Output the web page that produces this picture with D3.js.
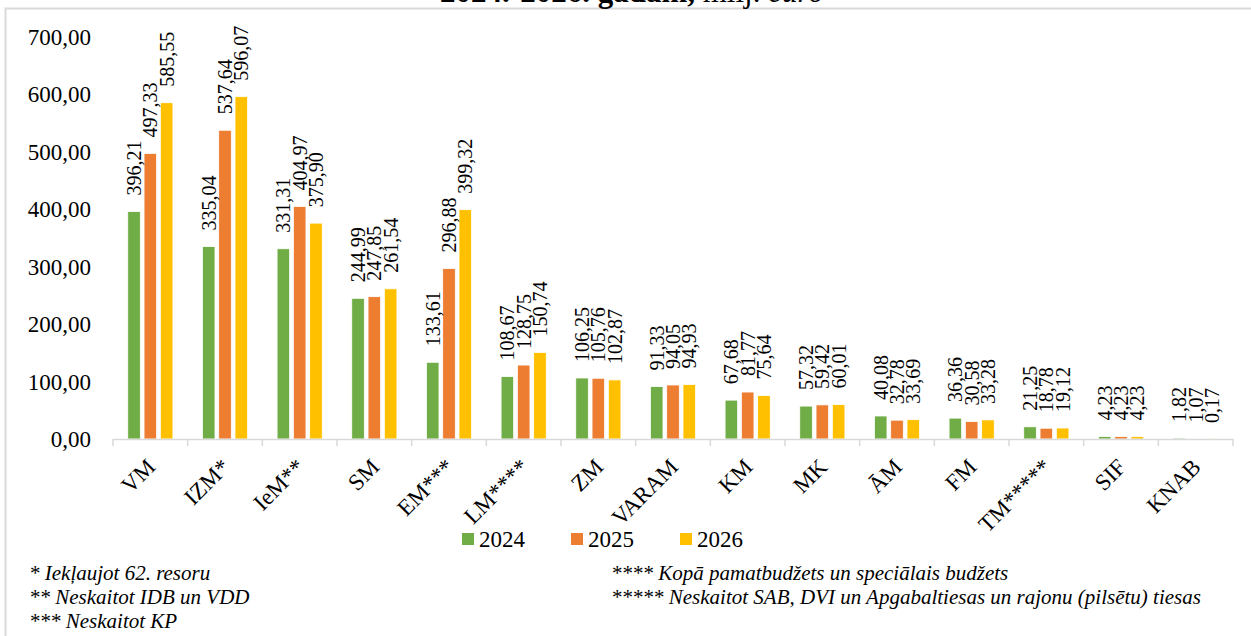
<!DOCTYPE html>
<html>
<head>
<meta charset="utf-8">
<script src="https://cdn.jsdelivr.net/npm/d3@7"></script>
<style>
  body { margin: 0; background: #fff; }
  svg { display: block; font-family: "Liberation Serif", "Times New Roman", serif; }
</style>
</head>
<body>
<svg id="chart" width="1251" height="636"></svg>
<script>
(function() {

  // Categories (ministries).
  var categories = ["VM", "IZM*", "IeM**", "SM", "EM***", "LM****", "ZM", "VARAM",
                    "KM", "MK", "ĀM", "FM", "TM*****", "SIF", "KNAB"];

  // Years in the legend.
  var years = ["2024", "2025", "2026"];

  // Values, milj. euro.
  var v2024 = [396.21, 335.04, 331.31, 244.99, 133.61, 108.67, 106.25, 91.33, 67.68, 57.32, 40.08, 36.36, 21.25, 4.23, 1.82];
  var v2025 = [497.33, 537.64, 404.97, 247.85, 296.88, 128.75, 105.76, 94.05, 81.77, 59.42, 32.78, 30.58, 18.78, 4.23, 1.07];
  var v2026 = [585.55, 596.07, 375.90, 261.54, 399.32, 150.74, 102.87, 94.93, 75.64, 60.01, 33.69, 33.28, 19.12, 4.23, 0.17];

  // Y ticks.
  var yticks = [0, 100, 200, 300, 400, 500, 600, 700];

  // Footnotes.
  var notesLeft = ["* Iekļaujot 62. resoru", "** Neskaitot IDB un VDD", "*** Neskaitot KP"];
  var notesRight = ["**** Kopā pamatbudžets un speciālais budžets",
                    "***** Neskaitot SAB, DVI un Apgabaltiesas un rajonu (pilsētu) tiesas"];

  var colours = ["#70ad47", "#ed7d31", "#ffc000"];
  var series = [v2024, v2025, v2026];

  var svg = d3.select("#chart");

  // Outer frame.
  svg.append("rect")
    .attr("x", 5.5).attr("y", 8.5)
    .attr("width", 1260).attr("height", 640)
    .attr("fill", "none")
    .attr("stroke", "#d9d9d9")
    .attr("stroke-width", 2);

  // Title, mostly cut off at the top.
  var title = svg.append("text")
    .attr("x", 632).attr("y", 2)
    .attr("text-anchor", "middle")
    .attr("font-size", 31)
    .attr("fill", "#000");
  title.append("tspan").attr("font-weight", "bold").text("2024.-2026. gadam, ");
  title.append("tspan").text("milj. ");
  title.append("tspan").attr("font-style", "italic").text("euro");

  var x0 = d3.scaleBand().domain(categories).range([113, 1233]);
  var y = d3.scaleLinear().domain([0, 700]).range([439, 37]);

  var barW = 12.6, step = 16.3;
  var fmt = function(v) { return d3.format(".2f")(v).replace(".", ","); };

  // Y axis labels.
  svg.selectAll(".ylab")
    .data(yticks)
    .enter()
    .append("text")
    .attr("class", "ylab")
    .attr("x", 91)
    .attr("y", function(d) { return y(d); })
    .attr("dy", "0.35em")
    .attr("text-anchor", "end")
    .attr("font-size", 23)
    .text(fmt);

  // Bars.
  var rows = [];
  categories.forEach(function(c, i) {
    series.forEach(function(s, k) {
      rows.push({ cat: c, k: k, v: s[i] });
    });
  });

  function barX(d) {
    return x0(d.cat) + x0.bandwidth() / 2 + (d.k - 1) * step - barW / 2;
  }

  svg.selectAll(".bar")
    .data(rows)
    .enter()
    .append("rect")
    .attr("class", "bar")
    .attr("x", barX)
    .attr("y", function(d) { return y(d.v); })
    .attr("width", barW)
    .attr("height", function(d) { return y(0) - y(d.v); })
    .attr("fill", function(d) { return colours[d.k]; })
    .attr("stroke", "#fff")
    .attr("stroke-width", 0.8);

  // Value labels, rotated.
  svg.selectAll(".vlab")
    .data(rows)
    .enter()
    .append("text")
    .attr("class", "vlab")
    .attr("transform", function(d) {
      return "translate(" + (barX(d) + barW / 2) + "," + (y(d.v) - 16) + ") rotate(-90)";
    })
    .attr("dy", "0.35em")
    .attr("font-size", 20)
    .text(function(d) { return fmt(d.v); });

  // X axis.
  var xaxis = svg.append("g");
  xaxis.append("line")
    .attr("x1", 113).attr("x2", 1233)
    .attr("y1", 439.5).attr("y2", 439.5)
    .attr("stroke", "#d9d9d9").attr("stroke-width", 1.5);
  var bounds = categories.map(function(c) { return x0(c); }).concat([1233]);
  xaxis.selectAll(".tick")
    .data(bounds)
    .enter()
    .append("line")
    .attr("x1", function(d) { return d; }).attr("x2", function(d) { return d; })
    .attr("y1", 439).attr("y2", 446)
    .attr("stroke", "#d9d9d9").attr("stroke-width", 1.5);

  svg.selectAll(".xlab")
    .data(categories)
    .enter()
    .append("text")
    .attr("class", "xlab")
    .attr("transform", function(d) {
      return "translate(" + (x0(d) + x0.bandwidth() / 2 - 5) + ",457) rotate(-45)";
    })
    .attr("text-anchor", "end")
    .attr("dy", "0.7em")
    .attr("font-size", 23)
    .text(function(d) { return d; });

  // Legend.
  var legendX = [462, 571, 680];
  var lg = svg.selectAll(".legend")
    .data(years)
    .enter()
    .append("g")
    .attr("transform", function(d, i) { return "translate(" + legendX[i] + ",533)"; });
  lg.append("rect")
    .attr("width", 12).attr("height", 12)
    .attr("fill", function(d, i) { return colours[i]; });
  lg.append("text")
    .attr("x", 17).attr("y", 6)
    .attr("dy", "0.35em")
    .attr("font-size", 23)
    .text(function(d) { return d; });

  // Footnotes.
  svg.selectAll(".noteL")
    .data(notesLeft)
    .enter()
    .append("text")
    .attr("x", 29)
    .attr("y", function(d, i) { return 580 + i * 24; })
    .attr("font-size", 21)
    .attr("font-style", "italic")
    .text(function(d) { return d; });

  svg.selectAll(".noteR")
    .data(notesRight)
    .enter()
    .append("text")
    .attr("x", 611)
    .attr("y", function(d, i) { return 580 + i * 24; })
    .attr("font-size", 21)
    .attr("font-style", "italic")
    .text(function(d) { return d; });

})();
</script>
</body>
</html>
